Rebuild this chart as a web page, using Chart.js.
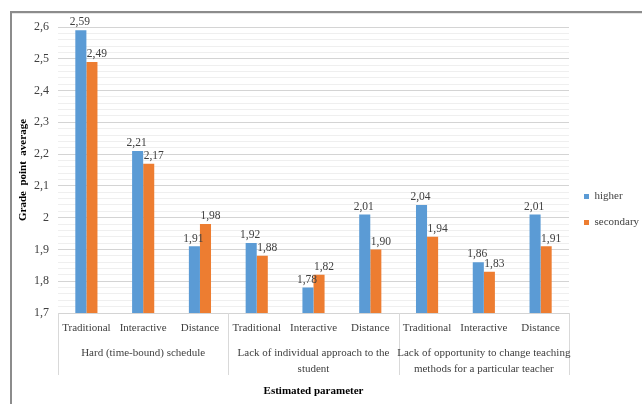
<!DOCTYPE html>
<html>
<head>
<meta charset="utf-8">
<script src="https://cdn.jsdelivr.net/npm/chart.js@4/dist/chart.umd.min.js"></script>
<style>
  html, body { margin: 0; padding: 0; background: #fff; }
  #wrap { width: 642px; height: 404px; position: relative; }
</style>
</head>
<body>
<div id="wrap"><canvas id="c" width="642" height="404"></canvas></div>
<script>
// Survey results: grade point average by teaching format and obstacle
const methods = ['Traditional', 'Interactive', 'Distance',
                 'Traditional', 'Interactive', 'Distance',
                 'Traditional', 'Interactive', 'Distance'];
const groups = [
  ['Hard (time-bound) schedule'],
  ['Lack of individual approach to the', 'student'],
  ['Lack of opportunity to change teaching', 'methods for a particular teacher']
];
const higher    = [2.59, 2.21, 1.91, 1.92, 1.78, 2.01, 2.04, 1.86, 2.01];
const secondary = [2.49, 2.17, 1.98, 1.88, 1.82, 1.90, 1.94, 1.83, 1.91];
const seriesNames = ['higher', 'secondary'];
const yMin = 1.7, yMax = 2.6;

const SERIF = '"Liberation Serif", "Times New Roman", serif';
const TEXT = '#404040';
const FS = 11;
const fmt = v => v.toFixed(2).replace('.', ',');

// outer frame, value labels and the two-level category axis
const decor = {
  id: 'decor',
  beforeDraw(chart) {
    const ctx = chart.ctx;
    ctx.save();
    ctx.strokeStyle = '#8c8c8c';
    ctx.lineWidth = 2;
    ctx.beginPath();
    ctx.moveTo(11, 404);
    ctx.lineTo(11, 12);
    ctx.lineTo(642, 12);
    ctx.stroke();
    ctx.strokeStyle = '#e6e6e6';
    ctx.lineWidth = 1;
    ctx.beginPath();
    ctx.moveTo(12, 13.5);
    ctx.lineTo(642, 13.5);
    ctx.stroke();
    ctx.restore();
  },
  afterDatasetsDraw(chart) {
    const ctx = chart.ctx;
    ctx.save();
    ctx.font = '11.5px ' + SERIF;
    ctx.fillStyle = TEXT;
    ctx.textAlign = 'center';
    ctx.textBaseline = 'bottom';
    chart.data.datasets.forEach((ds, di) => {
      const meta = chart.getDatasetMeta(di);
      meta.data.forEach((el, i) => {
        const dx = di === 0 ? -1 : 5;
        ctx.fillText(fmt(ds.data[i]), el.x + dx, el.y - 2);
      });
    });
    ctx.restore();
  },
  afterDraw(chart) {
    const ctx = chart.ctx;
    const x = chart.scales.x;
    const area = chart.chartArea;
    const step = x.getPixelForValue(1) - x.getPixelForValue(0);
    const edges = [0, 3, 6, 9].map(i => x.getPixelForValue(0) - step / 2 + i * step);
    ctx.save();
    ctx.strokeStyle = '#d9d9d9';
    ctx.lineWidth = 1;
    edges.forEach(px => {
      const p = Math.round(px) + 0.5;
      ctx.beginPath();
      ctx.moveTo(p, area.bottom);
      ctx.lineTo(p, area.bottom + 62);
      ctx.stroke();
    });
    ctx.font = FS + 'px ' + SERIF;
    ctx.fillStyle = TEXT;
    ctx.textAlign = 'center';
    ctx.textBaseline = 'middle';
    groups.forEach((lines, g) => {
      const cx = (edges[g] + edges[g + 1]) / 2;
      lines.forEach((t, k) => ctx.fillText(t, cx, area.bottom + 40 + k * 16));
    });
    ctx.restore();
  }
};

new Chart(document.getElementById('c'), {
  type: 'bar',
  data: {
    labels: methods,
    datasets: [
      { label: seriesNames[0], data: higher, backgroundColor: '#5b9bd5' },
      { label: seriesNames[1], data: secondary, backgroundColor: '#ed7d31' }
    ]
  },
  options: {
    responsive: false,
    animation: false,
    devicePixelRatio: 1,
    layout: { padding: { left: 12, top: 27, right: 0, bottom: 12 } },
    datasets: { bar: { categoryPercentage: 0.39, barPercentage: 1 } },
    plugins: {
      tooltip: { enabled: false },
      legend: {
        position: 'right',
        maxWidth: 73,
        labels: {
          boxWidth: 5, boxHeight: 5, padding: 15,
          color: TEXT,
          font: { family: SERIF, size: 11 }
        }
      }
    },
    scales: {
      y: {
        min: yMin, max: yMax,
        afterFit: s => { s.width = 46; },
        border: { display: false },
        grid: {
          drawTicks: false,
          color: c => (Math.abs(c.tick.value * 10 - Math.round(c.tick.value * 10)) < 1e-6) ? '#d4d4d4' : '#efefef'
        },
        ticks: {
          stepSize: 0.02,
          autoSkip: false,
          padding: 9,
          color: TEXT,
          font: { family: SERIF, size: 12 },
          callback: v => {
            const r = Math.round(v * 10);
            if (Math.abs(v * 10 - r) > 1e-6) return '';
            return (r / 10).toString().replace('.', ',');
          }
        },
        title: {
          display: true,
          text: 'Grade  point  average',
          color: '#000',
          font: { family: SERIF, size: 11, weight: 'bold' },
          padding: { top: 5, bottom: 0 }
        }
      },
      x: {
        afterFit: s => { s.height = 79; },
        border: { display: false },
        grid: { display: false, drawTicks: false },
        ticks: {
          padding: 9,
          color: TEXT,
          maxRotation: 0,
          autoSkip: false,
          font: { family: SERIF, size: FS }
        },
        title: {
          display: true,
          text: 'Estimated parameter',
          color: '#000',
          align: 'center',
          font: { family: SERIF, size: 11, weight: 'bold' },
          padding: { top: 0, bottom: -6 }
        }
      }
    }
  },
  plugins: [decor]
});
</script>
</body>
</html>
